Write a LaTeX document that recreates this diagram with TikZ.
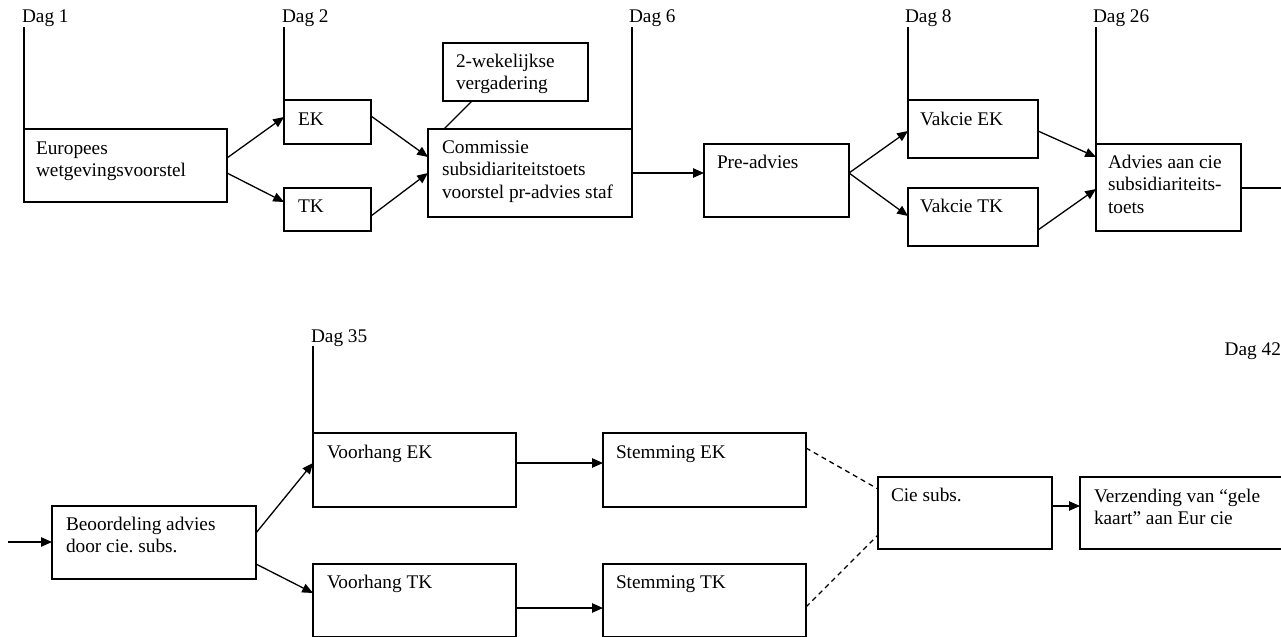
\documentclass[tikz,border=0pt]{standalone}
\usepackage{fontspec}
\setmainfont{Liberation Serif}
\usetikzlibrary{arrows.meta}
\frenchspacing
\newcommand{\mlines}[1]{\begin{tabular}[t]{@{}l@{}}#1\end{tabular}}
\begin{document}
\begin{tikzpicture}[x=0.5pt,y=-0.5pt,
  box/.style={draw, line width=0.7pt, inner sep=0pt, outer sep=0pt, anchor=north west},
  txt/.style={inner sep=0pt, outer sep=0pt, anchor=base west, font=\fontsize{9.65pt}{11.25pt}\selectfont},
  conn/.style={line width=0.65pt},
  arr/.style={conn, -{Triangle[length=5.4pt,width=4.6pt]}},
  dashconn/.style={conn, dash pattern=on 2.5pt off 2pt}]
\useasboundingbox (0,0) rectangle (1281,637);
\clip (0,0) rectangle (1281,637);

% ---------- top row boxes ----------
\node[box, minimum width=101.5pt, minimum height=36.5pt] (eu)  at (24,129)  {};
\node[box, minimum width=43.5pt,  minimum height=22pt]   (ek)  at (284,100) {};
\node[box, minimum width=43.5pt,  minimum height=21.5pt] (tk)  at (284,188) {};
\node[box, minimum width=72.5pt,  minimum height=29pt]   (wk)  at (443,43)  {};
\node[box, minimum width=102pt,   minimum height=44pt]   (com) at (428,129) {};
\node[box, minimum width=72.5pt,  minimum height=36.5pt] (pre) at (704,144) {};
\node[box, minimum width=65pt,    minimum height=29pt]   (vek) at (908,100) {};
\node[box, minimum width=65pt,    minimum height=29pt]   (vtk) at (908,188) {};
\node[box, minimum width=72.5pt,  minimum height=43.5pt] (adv) at (1096,144) {};

% ---------- bottom row boxes ----------
\node[box, minimum width=102pt,   minimum height=36.5pt] (beo)  at (52,506)  {};
\node[box, minimum width=101.5pt, minimum height=37pt]   (vhek) at (313,433) {};
\node[box, minimum width=101.5pt, minimum height=36.5pt] (vhtk) at (313,564) {};
\node[box, minimum width=101.5pt, minimum height=37pt]   (sek)  at (603,433) {};
\node[box, minimum width=101.5pt, minimum height=36.5pt] (stk)  at (603,564) {};
\node[box, minimum width=87pt,    minimum height=36pt]   (cie)  at (878,477) {};
\node[box, minimum width=115pt,   minimum height=36pt]   (verz) at (1080,477) {};

% ---------- texts ----------
\node[txt] (teu)  at ([shift={(12,25)}]eu.north west)   {\mlines{Europees\\wetgevingsvoorstel}};
\node[txt] (tek)  at ([shift={(14,25)}]ek.north west)   {EK};
\node[txt] (ttk)  at ([shift={(14,24)}]tk.north west)   {TK};
\node[txt] (twk)  at ([shift={(13,24)}]wk.north west)   {\mlines{2-wekelijkse\\vergadering}};
\node[txt] (tcom) at ([shift={(14,24)}]com.north west)  {\mlines{Commissie\\subsidiariteitstoets\\voorstel pr-advies staf}};
\node[txt] (tpre) at ([shift={(13,24)}]pre.north west)  {Pre-advies};
\node[txt] (tvek) at ([shift={(12,25)}]vek.north west)  {Vakcie EK};
\node[txt] (tvtk) at ([shift={(12,24)}]vtk.north west)  {Vakcie TK};
\node[txt] (tadv) at ([shift={(12,24)}]adv.north west)  {\mlines{Advies aan cie\\subsidiariteits-\\toets}};
\node[txt] (tbeo) at ([shift={(14,24)}]beo.north west)  {\mlines{Beoordeling advies\\door cie. subs.}};
\node[txt] (tvhek) at ([shift={(14,25)}]vhek.north west) {Voorhang EK};
\node[txt] (tvhtk) at ([shift={(14,24)}]vhtk.north west) {Voorhang TK};
\node[txt] (tsek) at ([shift={(13,25)}]sek.north west)  {Stemming EK};
\node[txt] (tstk) at ([shift={(13,24)}]stk.north west)  {Stemming TK};
\node[txt] (tcie) at ([shift={(13,24)}]cie.north west)  {Cie subs.};
\node[txt] (tverz) at ([shift={(14,25)}]verz.north west) {\mlines{Verzending van “gele\\kaart” aan Eur cie}};

% ---------- day labels and their lines ----------
\node[txt] (d1)  at (22,23)   {Dag 1};
\node[txt] (d2)  at (282,23)  {Dag 2};
\node[txt] (d6)  at (629,23)  {Dag 6};
\node[txt] (d8)  at (905,23)  {Dag 8};
\node[txt] (d26) at (1093,23) {Dag 26};
\node[txt] (d35) at (311,342) {Dag 35};
\node[txt, anchor=base east] (d42) at (1281,355) {Dag 42};

\draw[conn] (eu.north west)  -- (eu.north west |- d1.south);
\draw[conn] (ek.north west)  -- (ek.north west |- d2.south);
\draw[conn] (com.north east) -- (com.north east |- d6.south);
\draw[conn] (vek.north west) -- (vek.north west |- d8.south);
\draw[conn] (adv.north west) -- (adv.north west |- d26.south);
\draw[conn] (vhek.north west) -- (vhek.north west |- d35.south);

% ---------- connectors, top row ----------
\draw[arr] ([shift={(0,29)}]eu.north east) -- ([shift={(0,17)}]ek.north west);
\draw[arr] ([shift={(0,44)}]eu.north east) -- ([shift={(0,14)}]tk.north west);
\draw[arr] ([shift={(0,16)}]ek.north east) -- ([shift={(0,28)}]com.north west);
\draw[arr] ([shift={(0,28)}]tk.north east) -- ([shift={(0,44)}]com.north west);
\draw[conn] ([shift={(29,0)}]wk.south west) -- ([shift={(16,0)}]com.north west);
\draw[arr] ([shift={(0,44)}]com.north east) -- ([shift={(0,29)}]pre.north west);
\draw[arr] ([shift={(0,29)}]pre.north east) -- ([shift={(0,31)}]vek.north west);
\draw[arr] ([shift={(0,29)}]pre.north east) -- ([shift={(0,28)}]vtk.north west);
\draw[arr] ([shift={(0,31)}]vek.north east) -- ([shift={(0,13)}]adv.north west);
\draw[arr] ([shift={(0,42)}]vtk.north east) -- ([shift={(0,45)}]adv.north west);
\coordinate (outr) at (1281,188);
\draw[conn] ([shift={(0,44)}]adv.north east) -- (outr);

% ---------- connectors, bottom row ----------
\coordinate (inl) at (8,542);
\draw[arr] (inl) -- ([shift={(0,36)}]beo.north west);
\draw[arr] ([shift={(0,27)}]beo.north east) -- ([shift={(0,30)}]vhek.north west);
\draw[arr] ([shift={(0,58)}]beo.north east) -- ([shift={(0,29)}]vhtk.north west);
\draw[arr] ([shift={(0,30)}]vhek.north east) -- ([shift={(0,30)}]sek.north west);
\draw[arr] ([shift={(0,44)}]vhtk.north east) -- ([shift={(0,44)}]stk.north west);
\draw[dashconn] ([shift={(0,15)}]sek.north east) -- ([shift={(0,12)}]cie.north west);
\draw[dashconn] ([shift={(0,43)}]stk.north east) -- ([shift={(0,58)}]cie.north west);
\draw[arr] ([shift={(0,29)}]cie.north east) -- ([shift={(0,29)}]verz.north west);
\end{tikzpicture}
\end{document}
